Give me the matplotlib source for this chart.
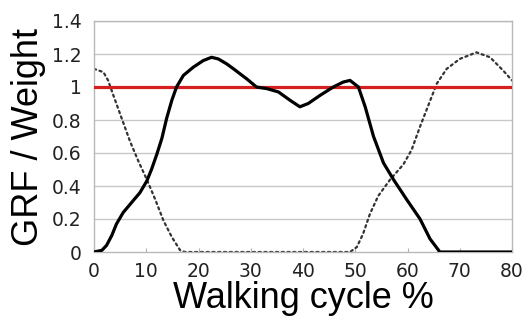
import numpy as np
import matplotlib.pyplot as plt

# 実線 (GRF) の読み取り値
solid_x = [0, 1.5, 2.4, 3.4, 4.3, 5.6, 7.2, 8.8, 10.1, 11.0, 12.0, 13.0, 13.9, 14.9,
           15.8, 17.1, 19.0, 20.9, 22.5, 23.8, 25.4, 26.7, 29.2, 31.1, 33.1, 35.3,
           37.5, 39.4, 41.0, 43.3, 45.8, 47.7, 49.0, 50.6, 51.9, 53.5, 55.4, 57.3,
           59.8, 62.4, 64.3, 66.2, 80]
solid_y = [0, 0.01, 0.04, 0.10, 0.17, 0.24, 0.30, 0.36, 0.43, 0.50, 0.59, 0.69, 0.81, 0.92,
           1.00, 1.07, 1.12, 1.16, 1.18, 1.17, 1.14, 1.11, 1.05, 1.00, 0.99, 0.97,
           0.92, 0.88, 0.90, 0.95, 1.00, 1.03, 1.04, 1.00, 0.88, 0.70, 0.54, 0.44,
           0.32, 0.20, 0.08, 0.0, 0.0]

# 点線 (反対脚) の読み取り値
dot_x = [0, 1.8, 2.7, 3.7, 5.3, 6.9, 8.5, 10.1, 11.7, 13.3, 14.9, 16.5, 17.4,
         49.0, 50.3, 51.5, 52.8, 54.4, 56.7, 59.2, 60.8, 62.4, 64.0, 65.6, 67.5,
         70.0, 73.2, 75.8, 78.3, 80]
dot_y = [1.11, 1.09, 1.04, 0.95, 0.81, 0.67, 0.55, 0.44, 0.32, 0.19, 0.09, 0.01, 0.0,
         0.0, 0.03, 0.11, 0.23, 0.34, 0.44, 0.53, 0.62, 0.76, 0.89, 1.02, 1.11,
         1.17, 1.21, 1.18, 1.10, 1.04]

x_ticks = [0, 10, 20, 30, 40, 50, 60, 70, 80]
y_ticks = [0, 0.2, 0.4, 0.6, 0.8, 1.0, 1.2, 1.4]
y_labels = ['0', '0.2', '0.4', '0.6', '0.8', '1', '1.2', '1.4']

plt.rcParams['font.family'] = ['Liberation Sans', 'DejaVu Sans']

fig = plt.figure(figsize=(5.31, 3.26), dpi=100)
ax = fig.add_axes([94 / 531, 74 / 326, 418 / 531, 231 / 326])

for v in y_ticks[1:]:
    ax.axhline(v, color='#c8c8c8', lw=1.0, zorder=1)

ax.plot(dot_x, dot_y, color='#333333', lw=1.6, linestyle=(0, (1, 1.6)),
        dash_capstyle='round', zorder=2)
ax.axhline(1.0, color='#d42020', lw=2.3, zorder=3)
ax.plot(solid_x, solid_y, color='black', lw=2.3, zorder=4,
        solid_joinstyle='round')

ax.set_xlim(0, 80)
ax.set_ylim(0, 1.4)
ax.set_xticks(x_ticks)
ax.set_yticks(y_ticks)
ax.set_yticklabels(y_labels)
ax.tick_params(axis='x', direction='in', length=3, color='#b0b0b0', pad=7,
               labelsize=13.5)
ax.tick_params(axis='y', length=0, pad=9, labelsize=13.5)
for lab in ax.get_xticklabels() + ax.get_yticklabels():
    lab.set_family('DejaVu Sans')
    lab.set_color('#222222')
for s in ax.spines.values():
    s.set_color('#b8b8b8')
    s.set_linewidth(1.0)

ax.set_xlabel('Walking cycle %', fontsize=26, labelpad=0)
ax.set_ylabel('GRF / Weight', fontsize=26, labelpad=4)

fig.savefig('out.png', dpi=100)
